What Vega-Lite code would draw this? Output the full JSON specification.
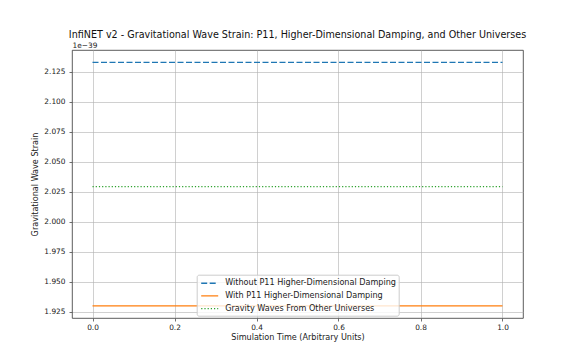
{
  "$schema": "https://vega.github.io/schema/vega-lite/v6.json",
  "width": 451,
  "height": 268,
  "autosize": {"type": "none"},
  "padding": {"left": 72, "top": 50, "right": 38, "bottom": 42},
  "background": "white",
  "title": {
    "text": "InfiNET v2 - Gravitational Wave Strain: P11, Higher-Dimensional Damping, and Other Universes",
    "font": "DejaVu Sans",
    "fontSize": 9.6,
    "fontWeight": "normal",
    "color": "#111",
    "anchor": "middle",
    "frame": "group",
    "baseline": "alphabetic",
    "offset": -6
  },
  "data": {
    "values": [
      {"t": 0.0, "strain": 2.1328e-39, "series": "Without P11 Higher-Dimensional Damping"},
      {"t": 1.0, "strain": 2.1328e-39, "series": "Without P11 Higher-Dimensional Damping"},
      {"t": 0.0, "strain": 1.9298e-39, "series": "With P11 Higher-Dimensional Damping"},
      {"t": 1.0, "strain": 1.9298e-39, "series": "With P11 Higher-Dimensional Damping"},
      {"t": 0.0, "strain": 2.0292e-39, "series": "Gravity Waves From Other Universes"},
      {"t": 1.0, "strain": 2.0292e-39, "series": "Gravity Waves From Other Universes"}
    ]
  },
  "layer": [
    {
      "mark": {"type": "line", "strokeWidth": 1.4},
      "encoding": {
        "x": {
          "field": "t", "type": "quantitative",
          "scale": {"domain": [-0.05, 1.05], "nice": false, "zero": false},
          "axis": {"values": [0, 0.2, 0.4, 0.6, 0.8, 1.0], "format": ".1f", "tickCount": 20, "title": "Simulation Time (Arbitrary Units)", "labelPadding": 2, "titlePadding": 3}
        },
        "y": {
          "field": "strain", "type": "quantitative",
          "scale": {"domain": [1.9197e-39, 2.1431e-39], "nice": false, "zero": false},
          "axis": {
            "values": [1.925e-39, 1.95e-39, 1.975e-39, 2.0e-39, 2.025e-39, 2.05e-39, 2.075e-39, 2.1e-39, 2.125e-39],
            "tickCount": 20,
            "labelExpr": "format(datum.value * 1e39, '.3f')",
            "labelOverlap": false,
            "title": "Gravitational Wave Strain",
            "labelPadding": 4,
            "titlePadding": 4
          }
        },
        "color": {
          "field": "series", "type": "nominal",
          "scale": {
            "domain": ["Without P11 Higher-Dimensional Damping", "With P11 Higher-Dimensional Damping", "Gravity Waves From Other Universes"],
            "range": ["#1f77b4", "#ff7f0e", "#2ca02c"]
          },
          "legend": {
            "title": null, "orient": "none", "legendX": 124.7, "legendY": 224.7,
            "symbolType": "M-0.8,0H2.6", "symbolSize": 100, "symbolStrokeWidth": 1.4, "symbolFillColor": "transparent",
            "labelFontSize": 8.1, "labelFont": "DejaVu Sans", "labelColor": "#222", "labelLimit": 300,
            "rowPadding": 1.7, "padding": 2.5, "labelOffset": 14,
            "strokeColor": "#cccccc", "fillColor": "rgba(255,255,255,0.8)", "cornerRadius": 2
          }
        },
        "strokeDash": {
          "field": "series", "type": "nominal",
          "scale": {
            "domain": ["Without P11 Higher-Dimensional Damping", "With P11 Higher-Dimensional Damping", "Gravity Waves From Other Universes"],
            "range": [[6, 2.5], [1, 0], [1.2, 2]]
          },
          "legend": {
            "title": null, "orient": "none", "legendX": 124.7, "legendY": 224.7,
            "symbolType": "M-0.8,0H2.6", "symbolSize": 100, "symbolStrokeWidth": 1.4, "symbolFillColor": "transparent",
            "labelFontSize": 8.1, "labelFont": "DejaVu Sans", "labelColor": "#222", "labelLimit": 300,
            "rowPadding": 1.7, "padding": 2.5, "labelOffset": 14,
            "strokeColor": "#cccccc", "fillColor": "rgba(255,255,255,0.8)", "cornerRadius": 2
          }
        }
      }
    },
    {
      "mark": {"type": "line", "opacity": 0},
      "encoding": {
        "x": {
          "field": "t", "type": "quantitative",
          "axis": {
            "orient": "top", "title": "1e\u221239", "labels": false, "ticks": false, "grid": false, "domain": false,
            "titleX": 0, "titleY": -2.5, "titleAlign": "left", "titleBaseline": "alphabetic", "titleAngle": 0, "titleFontSize": 7.4
          }
        },
        "y": {"field": "strain", "type": "quantitative"},
        "detail": {"field": "series"}
      }
    }
  ],
  "resolve": {"axis": {"x": "independent"}},
  "config": {
    "font": "DejaVu Sans",
    "view": {"stroke": "#333", "strokeWidth": 0.8},
    "axis": {
      "domain": false,
      "grid": true,
      "gridColor": "#b0b0b0",
      "gridWidth": 0.6,
      "tickColor": "#333",
      "tickSize": 3,
      "tickWidth": 0.7,
      "labelFont": "DejaVu Sans",
      "labelFontSize": 7.4,
      "labelColor": "#222",
      "titleFont": "DejaVu Sans",
      "titleFontSize": 8.1,
      "titleFontWeight": "normal",
      "titleColor": "#222"
    }
  }
}
